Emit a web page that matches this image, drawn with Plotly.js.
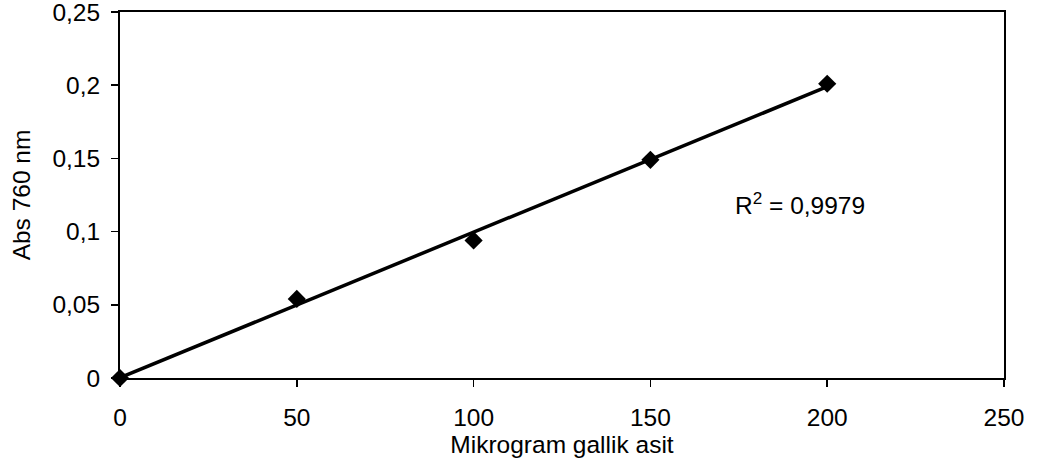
<!DOCTYPE html>
<html>
<head>
<meta charset="utf-8">
<script src="https://cdn.plot.ly/plotly-3.0.1.min.js"></script>
<style>html,body{margin:0;padding:0;background:#fff;}#chart{width:1037px;height:475px;}</style>
</head>
<body>
<div id="chart"></div>
<script>
const microgram = [0, 50, 100, 150, 200];
const absorbance = [0, 0.054, 0.094, 0.149, 0.201];
const xTicks = [0, 50, 100, 150, 200, 250];
const yTicks = [0, 0.05, 0.1, 0.15, 0.2, 0.25];
const yTickLabels = ["0", "0,05", "0,1", "0,15", "0,2", "0,25"];
const r2Label = "R<sup>2</sup> = 0,9979";

// least-squares trendline from data
const n = microgram.length;
const mx = microgram.reduce((a,b)=>a+b,0)/n;
const my = absorbance.reduce((a,b)=>a+b,0)/n;
let sxy = 0, sxx = 0;
for (let i=0;i<n;i++){ sxy += (microgram[i]-mx)*(absorbance[i]-my); sxx += (microgram[i]-mx)**2; }
const slope = sxy/sxx, intercept = my - slope*mx;
const trendX = [microgram[0], microgram[n-1]];
const trendY = trendX.map(x => intercept + slope*x);

const font = {family: "Liberation Sans, Arial, sans-serif", color: "#000"};
const fs = 24.5;

const data = [
  {x: trendX, y: trendY, mode: "lines", line: {color: "#000", width: 3.5}, hoverinfo: "skip", showlegend: false, cliponaxis: false},
  {x: microgram, y: absorbance, mode: "markers", marker: {symbol: "diamond", size: 14, color: "#000"}, showlegend: false, cliponaxis: false}
];

const layout = {
  width: 1037, height: 475,
  margin: {l: 120, r: 33, t: 12, b: 97},
  paper_bgcolor: "#fff", plot_bgcolor: "#fff",
  separators: ", ",
  font: Object.assign({size: fs}, font),
  xaxis: {
    range: [0, 250], tickvals: xTicks, ticktext: xTicks.map(String),
    showgrid: false, zeroline: false,
    showline: true, linecolor: "#000", linewidth: 2, mirror: true,
    ticks: "outside", ticklen: 7, tickcolor: "#000", tickwidth: 1.5,
    ticklabelposition: "outside", ticklabelstandoff: 10, ticklabeloverflow: "allow",
    tickfont: Object.assign({size: fs}, font),
    title: {text: "Mikrogram gallik asit", font: Object.assign({size: fs}, font), standoff: 2}
  },
  yaxis: {
    range: [0, 0.25], tickvals: yTicks, ticktext: yTickLabels,
    showgrid: false, zeroline: false,
    showline: true, linecolor: "#000", linewidth: 2, mirror: true,
    ticks: "outside", ticklen: 7, tickcolor: "#000", tickwidth: 1.5,
    ticklabelposition: "outside", ticklabelstandoff: 6, ticklabeloverflow: "allow",
    tickfont: Object.assign({size: fs}, font),
    title: {text: "Abs 760 nm", font: Object.assign({size: fs}, font), standoff: 15}
  },
  annotations: [{
    x: 0, y: 0, xref: "paper", yref: "paper", text: r2Label, showarrow: false,
    xanchor: "left", yanchor: "middle", font: Object.assign({size: fs}, font)
  }]
};
// place annotation in pixel terms via paper coordinates
const plotW = 1037 - 120 - 33, plotH = 475 - 12 - 97;
layout.annotations[0].x = (733 - 120) / plotW;
layout.annotations[0].y = (475 - 97 - 203) / plotH;

Plotly.newPlot("chart", data, layout, {displayModeBar: false, staticPlot: true});
</script>
</body>
</html>
